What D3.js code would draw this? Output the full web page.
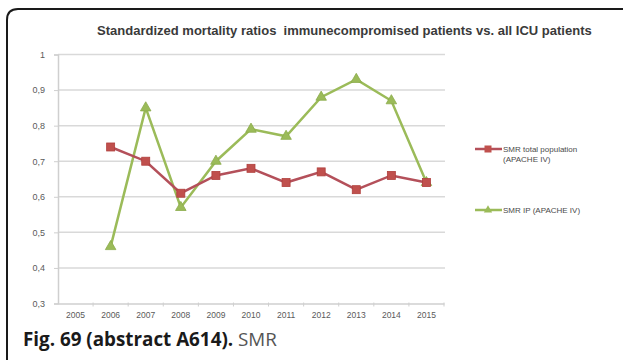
<!DOCTYPE html>
<html>
<head>
<meta charset="utf-8">
<script src="https://cdn.jsdelivr.net/npm/d3@7"></script>
<style>
  html, body { margin: 0; padding: 0; background: #fff; }
  svg { display: block; }
</style>
</head>
<body>
<svg id="chart" width="623" height="360"></svg>
<script>
const years = ["2005","2006","2007","2008","2009","2010","2011","2012","2013","2014","2015"];
const smrTotalYears = ["2006","2007","2008","2009","2010","2011","2012","2013","2014","2015"];
const smrTotal = [0.74, 0.70, 0.61, 0.66, 0.68, 0.64, 0.67, 0.62, 0.66, 0.64];
const smrIPYears = ["2006","2007","2008","2009","2010","2011","2012","2013","2014","2015"];
const smrIP = [0.46, 0.85, 0.57, 0.70, 0.79, 0.77, 0.88, 0.93, 0.87, 0.64];
const yTicks = [0.3, 0.4, 0.5, 0.6, 0.7, 0.8, 0.9, 1];
const yTickLabels = ["0,3","0,4","0,5","0,6","0,7","0,8","0,9","1"];
const seriesNames = ["SMR total population (APACHE IV)", "SMR IP (APACHE IV)"];
const titleText = "Standardized mortality ratios  immunecompromised patients vs. all ICU patients";

const svg = d3.select("#chart");

// frame with rounded top-left corner
svg.append("path")
  .attr("d", "M7,360 L7,20 Q7,9 18,9 L623,9")
  .attr("fill", "none").attr("stroke", "#1a1a1a").attr("stroke-width", 2);

const x = d3.scaleBand().domain(years).range([58, 444]).padding(0);
const y = d3.scaleLinear().domain([0.3, 1]).range([303.5, 54.5]);

// gridlines
svg.append("g").selectAll("line").data(yTicks.filter(d => d > 0.3)).join("line")
  .attr("x1", 58).attr("x2", 445)
  .attr("y1", d => y(d)).attr("y2", d => y(d))
  .attr("stroke", "#d9d9d9").attr("stroke-width", 1.5);

// y axis
const yAxis = d3.axisLeft(y).tickValues(yTicks)
  .tickFormat((d, i) => yTickLabels[i]).tickSize(4).tickPadding(9);
const gy = svg.append("g").attr("transform", "translate(58,0)").call(yAxis);
gy.select(".domain").attr("stroke", "#cfcfcf").attr("stroke-width", 1.5);
gy.selectAll(".tick line").attr("stroke", "#cfcfcf");
gy.selectAll(".tick text").attr("fill", "#5a5a5a")
  .style("font-family", "'Liberation Sans', Arial, sans-serif").style("font-size", "9px");

// x axis
const xAxis = d3.axisBottom(x).tickSize(0).tickPadding(8);
const gx = svg.append("g").attr("transform", `translate(0,${y(0.3)})`).call(xAxis);
gx.select(".domain").attr("stroke", "#cfcfcf").attr("stroke-width", 1.5);
gx.selectAll(".tick text").attr("fill", "#5a5a5a")
  .style("font-family", "'Liberation Sans', Arial, sans-serif").style("font-size", "8.5px");
// category boundary ticks
gx.append("g").selectAll("line").data(years.slice(1).concat(["end"])).join("line")
  .attr("x1", d => d === "end" ? 444 : x(d)).attr("x2", d => d === "end" ? 444 : x(d))
  .attr("y1", -1).attr("y2", 3)
  .attr("stroke", "#cfcfcf").attr("stroke-width", 1);

const line = d3.line().x(d => x(d[0]) + x.bandwidth() / 2).y(d => y(d[1]));

const ipData = smrIPYears.map((yr, i) => [yr, smrIP[i]]);
const totData = smrTotalYears.map((yr, i) => [yr, smrTotal[i]]);

const red = "#c0504d", green = "#9bbb59";

// green series
svg.append("path").datum(ipData).attr("d", line)
  .attr("fill", "none").attr("stroke", green).attr("stroke-width", 2.5);
const tri = d3.symbol().type(d3.symbolTriangle).size(48);
svg.append("g").selectAll("path").data(ipData).join("path")
  .attr("d", tri)
  .attr("transform", d => `translate(${x(d[0]) + x.bandwidth() / 2},${y(d[1])})`)
  .attr("fill", green).attr("stroke", "#8aab4a").attr("stroke-width", 0.8);

// red series
svg.append("path").datum(totData).attr("d", line)
  .attr("fill", "none").attr("stroke", "#b4505a").attr("stroke-width", 2.5);
svg.append("g").selectAll("rect").data(totData).join("rect")
  .attr("x", d => x(d[0]) + x.bandwidth() / 2 - 4)
  .attr("y", d => y(d[1]) - 4)
  .attr("width", 8).attr("height", 8)
  .attr("fill", red).attr("stroke", "#b03f3c").attr("stroke-width", 0.8);

// legend
const leg = svg.append("g").style("font-family", "'Liberation Sans', Arial, sans-serif")
  .style("font-size", "8px").attr("fill", "#4a4a4a");
// red
leg.append("line").attr("x1", 475).attr("x2", 502).attr("y1", 149).attr("y2", 149)
  .attr("stroke", "#b4505a").attr("stroke-width", 2.5);
leg.append("rect").attr("x", 484.5).attr("y", 145.5).attr("width", 7).attr("height", 7)
  .attr("fill", red);
leg.append("text").attr("x", 503).attr("y", 152).text("SMR total population");
leg.append("text").attr("x", 503).attr("y", 162).text("(APACHE IV)");
// green
leg.append("line").attr("x1", 475).attr("x2", 502).attr("y1", 210).attr("y2", 210)
  .attr("stroke", green).attr("stroke-width", 2.5);
leg.append("path").attr("d", d3.symbol().type(d3.symbolTriangle).size(30))
  .attr("transform", "translate(488,210)").attr("fill", green);
leg.append("text").attr("x", 503).attr("y", 213).text("SMR IP (APACHE IV)");

// title
const title = svg.append("text").attr("x", 97).attr("y", 35)
  .style("font-family", "'Liberation Sans', Arial, sans-serif")
  .style("font-size", "11.5px").style("font-weight", "bold")
  .attr("fill", "#3a3a3a").attr("xml:space", "preserve").text(titleText);
const tl = title.node().getComputedTextLength();
if (tl > 0) {
  title.style("font-size", (11.5 * 495 / tl).toFixed(2) + "px");
}

// caption
const cap = svg.append("text").attr("x", 23).attr("y", 346)
  .style("font-family", "'Open Sans', 'Noto Sans', sans-serif").style("font-size", "17px")
  .attr("fill", "#1a1a1a");
cap.append("tspan").style("font-weight", "bold").text("Fig. 69 (abstract A614).");
cap.append("tspan").attr("fill", "#555").text(" SMR");
const cl = cap.node().getComputedTextLength();
if (cl > 0) {
  cap.style("font-size", Math.min(19, 17 * 254 / cl).toFixed(2) + "px");
}
</script>
</body>
</html>
